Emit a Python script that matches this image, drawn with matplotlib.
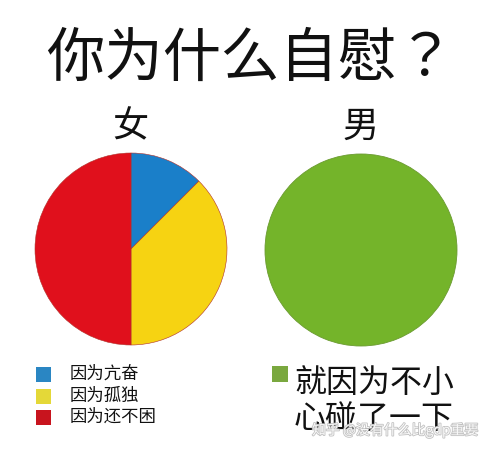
import matplotlib
matplotlib.use("Agg")
import matplotlib.pyplot as plt
import matplotlib.patheffects as pe

plt.rcParams['font.family'] = ['Noto Sans CJK SC', 'DejaVu Sans']

title = "你为什么自慰？"
groups = ["女", "男"]
female_labels = ["因为亢奋", "因为孤独", "因为还不困"]
female_values = [12.5, 37.5, 50.0]
female_colors = ["#1a7fc9", "#f6d312", "#e0101c"]
female_legend_colors = ["#2a86c3", "#e4d838", "#c8141e"]
male_labels = ["就因为不小\n心碰了一下"]
male_values = [100.0]
male_colors = ["#74b42a"]
male_legend_colors = ["#7aa83f"]
watermark = "知乎 @没有什么比gdp重要"

W, H = 495, 455
fig = plt.figure(figsize=(W / 100, H / 100), dpi=100)
ax = fig.add_axes([0, 0, 1, 1])

def Y(y):
    return H - y

ax.pie(female_values, colors=female_colors, startangle=90, counterclock=False,
       center=(131, Y(249)), radius=96, frame=True,
       wedgeprops=dict(edgecolor="#b0302a", linewidth=0.4))
ax.pie(male_values, colors=male_colors, startangle=90, counterclock=False,
       center=(361, Y(250)), radius=96, frame=True,
       wedgeprops=dict(edgecolor="#6a9a30", linewidth=0.6))

ax.set_xlim(0, W)
ax.set_ylim(0, H)
ax.set_aspect('equal')
ax.axis('off')

ax.text(250, Y(59), title, fontsize=42, ha='center', va='center', color='#111111',
        family=['Noto Sans CJK JP', 'DejaVu Sans'])
ax.text(130, Y(127), groups[0], fontsize=26, ha='center', va='center', color='#111111')
ax.text(361, Y(127), groups[1], fontsize=26, ha='center', va='center', color='#111111')

rows_y = [374, 396, 417]
for lab, col, yy in zip(female_labels, female_legend_colors, rows_y):
    ax.add_patch(plt.Rectangle((36, Y(yy) - 7.5), 15, 15, color=col, lw=0))
    ax.text(70, Y(yy), lab, fontsize=12.5, ha='left', va='center', color='#111111')

ax.add_patch(plt.Rectangle((272, Y(374) - 8), 16, 16, color=male_legend_colors[0], lw=0))
male_lines = male_labels[0].split("\n")
for line, yy in zip(male_lines, [383, 419]):
    ax.text(294, Y(yy), line, fontsize=23, ha='left', va='center', color='#111111')

ax.text(312, Y(430), watermark, fontsize=10, ha='left', va='center', color='white',
        alpha=0.9, path_effects=[pe.withStroke(linewidth=1.2, foreground='#bbbbbb')])

fig.savefig("out.png", dpi=100, facecolor='white')
